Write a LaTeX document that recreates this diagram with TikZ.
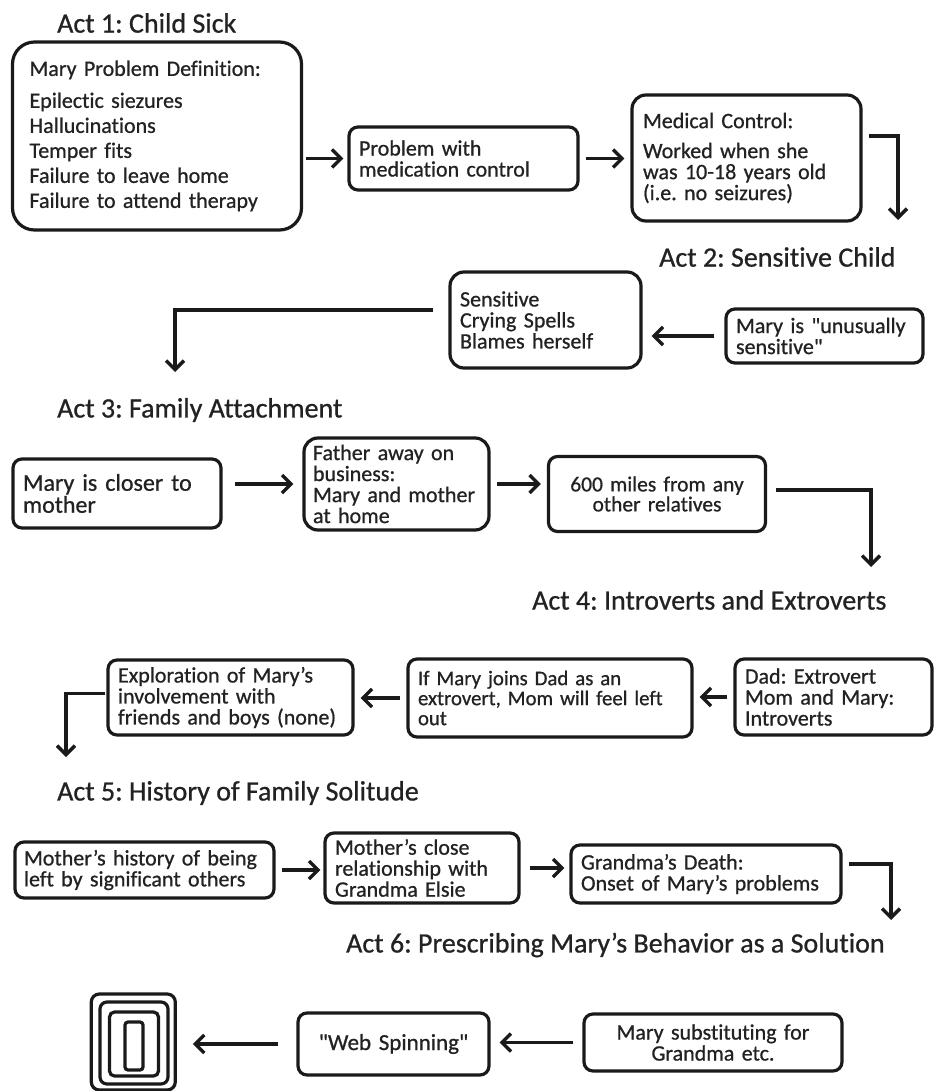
\documentclass[tikz,border=0pt]{standalone}
\usepackage{fontspec}
\setmainfont{Carlito}[Ligatures={TeX,NoCommon},FakeBold=0.8]
\usepackage{tikz}
\usetikzlibrary{arrows.meta,calc}
\definecolor{ink}{HTML}{1A1A1A}
\definecolor{schrift}{HTML}{222222}
\newcommand{\actfont}{\fontsize{28}{30}\selectfont}
\newcommand{\boxfont}{\fontsize{22}{21}\selectfont}
\newcommand{\qq}{\textquotedbl}
\frenchspacing
\tikzset{
  stage/.style={draw=ink,line width=3.2pt,rounded corners=9pt,inner xsep=10pt,inner ysep=2pt,font=\boxfont,text=schrift,align=left},
  flow/.style={-{Straight Barb[length=9pt,width=18pt]},ink,line width=3.4pt,shorten <=6pt,shorten >=6pt},
  elbow/.style={flow,shorten <=0pt,shorten >=0pt},
  act/.style={font=\actfont,text=schrift,anchor=west,inner sep=0pt},
  web/.style={draw=ink,line width=3.2pt,inner sep=0pt},
}

\begin{document}
\begin{tikzpicture}[x=1pt,y=-1pt]
  \useasboundingbox (0,0) rectangle (935,1091);
  % Act 1
  \node[act] (t1) at (57,23) {Act 1: Child Sick};
  \node[stage,rounded corners=22pt,inner xsep=17pt,minimum width=289pt,minimum height=188pt,text width=255pt,font=\fontsize{22}{25}\selectfont] (a1) at (157,136) {Mary Problem Definition:\\[7pt]Epilectic siezures\\Hallucinations\\Temper fits\\Failure to leave home\\Failure to attend therapy};
  \node[stage,minimum width=229pt,minimum height=63pt,text width=209pt] (a2) at (463.5,158.5) {Problem with\\medication control};
  \node[stage,rounded corners=14pt,minimum width=229pt,minimum height=126pt,text width=207pt] (a3) at (746.5,158) {Medical Control:\\[9pt]Worked when she\\was 10-18 years old\\(i.e. no seizures)};
  \coordinate (k2) at (898,220);
  \draw[flow,shorten <=3pt,shorten >=4pt] (a1.east |- a2.west) -- (a2.west);
  \draw[flow] (a2.east) -- (a2.east -| a3.west);
  \draw[elbow] ($(a3.east)+(6,-22)$) -| (k2);
  % Act 2
  \node[act] (t2) at (659,257) {Act 2: Sensitive Child};
  \node[stage,rounded corners=14pt,minimum width=191pt,minimum height=96pt,text width=171pt] (b2) at (545.5,320) {Sensitive\\Crying Spells\\Blames herself};
  \node[stage,minimum width=197pt,minimum height=54pt,text width=177pt] (b1) at (824.5,336) {Mary is \qq unusually\\sensitive\qq};
  \coordinate (k3) at (175,372);
  \draw[flow,shorten <=10pt,shorten >=9pt] (b1.west) -- (b1.west -| b2.east);
  \draw[elbow] ($(b2.west)+(-15,-10)$) -| (k3);
  % Act 3
  \node[act] (t3) at (57,410) {Act 3: Family Attachment};
  \node[stage,font=\fontsize{24}{22}\selectfont,minimum width=208pt,minimum height=69pt,text width=188pt] (c1) at (117,493.5) {Mary is closer to\\mother};
  \node[stage,rounded corners=14pt,inner xsep=9pt,minimum width=185pt,minimum height=92pt,text width=167pt] (c2) at (396.5,484) {Father away on\\business:\\Mary and mother\\at home};
  \node[stage,align=center,font=\fontsize{21.5}{20}\selectfont,minimum width=217pt,minimum height=75pt,text width=197pt] (c3) at (657,494) {600 miles from any\\other relatives};
  \coordinate (k4) at (871,567);
  \draw[flow,shorten <=12pt,shorten >=9pt] (c1.east |- c2.west) -- (c2.west);
  \draw[flow] (c2.east) -- (c2.east -| c3.west);
  \draw[elbow] ($(c3.east)+(9,-4)$) -| (k4);
  % Act 4
  \node[act] (t4) at (532,600) {Act 4: Introverts and Extroverts};
  \node[stage,minimum width=197pt,minimum height=76pt,text width=177pt] (d3) at (833.5,697) {Dad: Extrovert\\Mom and Mary:\\Introverts};
  \node[stage,font=\fontsize{20.8}{20}\selectfont,minimum width=284pt,minimum height=78pt,text width=264pt] (d2) at (550,698) {If Mary joins Dad as an\\extrovert, Mom will feel left\\out};
  \node[stage,minimum width=245pt,minimum height=75pt,text width=225pt] (d1) at (230.5,697.5) {Exploration of Mary's\\involvement with\\friends and boys (none)};
  \coordinate (k5) at (66,757);
  \draw[flow] (d3.west) -- (d3.west -| d2.east);
  \draw[flow] (d2.west) -- (d2.west -| d1.east);
  \draw[elbow] ($(d1.west)+(-1,-4)$) -| (k5);
  % Act 5
  \node[act] (t5) at (57,793) {Act 5: History of Family Solitude};
  \node[stage,inner xsep=9pt,minimum width=259pt,minimum height=56pt,text width=241pt] (e1) at (144.5,870) {Mother's history of being\\left by significant others};
  \node[stage,minimum width=194pt,minimum height=70pt,text width=174pt] (e2) at (422,868) {Mother's close\\relationship with\\Grandma Elsie};
  \node[stage,minimum width=270pt,minimum height=58pt,text width=250pt] (e3) at (706,874) {Grandma's Death:\\Onset of Mary's problems};
  \coordinate (k6) at (891,920);
  \draw[flow,shorten >=3pt] (e1.east) -- (e1.east -| e2.west);
  \draw[flow,shorten <=9pt,shorten >=5pt] (e2.east) -- (e2.east -| e3.west);
  \draw[elbow] ($(e3.east)+(6,-10)$) -| (k6);
  % Act 6
  \node[act] (t6) at (346,945) {Act 6: Prescribing Mary's Behavior as a Solution};
  \node[stage,align=center,minimum width=258pt,minimum height=57pt,text width=238pt] (f3) at (713,1042.5) {Mary substituting for\\Grandma etc.};
  \node[stage,align=center,font=\fontsize{23}{22}\selectfont,minimum width=191pt,minimum height=62pt,text width=171pt] (f2) at (393.5,1044) {\qq Web Spinning\qq};
  \node[web,rounded corners=8pt,minimum width=84pt,minimum height=96pt] (web) at (133.3,1042) {};
  \foreach \w/\h/\r/\dy in {68/82/7/1,49/64/5/2,18/48/3/4}
    \node[web,rounded corners=\r pt,minimum width=\w pt,minimum height=\h pt] at ($(web.center)+(0.7,\dy)$) {};
  \draw[flow,shorten <=9pt,shorten >=9pt] (f3.west) -- (f3.west -| f2.east);
  \draw[flow,shorten <=18pt,shorten >=16pt] (f2.west) -- (f2.west -| web.east);
\end{tikzpicture}
\end{document}
